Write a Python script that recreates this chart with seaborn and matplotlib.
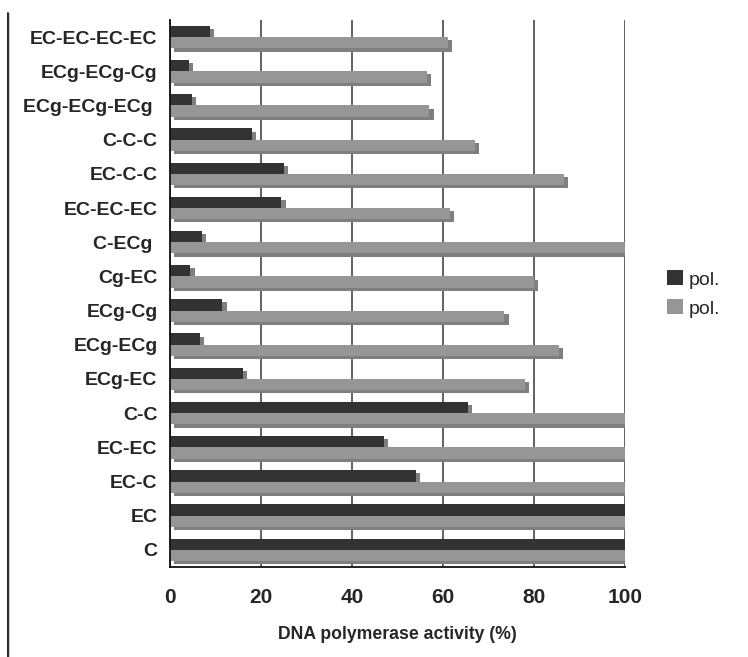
import numpy as np
import pandas as pd
import matplotlib
matplotlib.use('Agg')
import matplotlib.pyplot as plt
import matplotlib.patheffects as pe
from matplotlib.lines import Line2D
import seaborn as sns

# compounds, top to bottom
compounds = [
    'EC-EC-EC-EC', 'ECg-ECg-Cg', 'ECg-ECg-ECg ', 'C-C-C', 'EC-C-C',
    'EC-EC-EC', 'C-ECg ', 'Cg-EC', 'ECg-Cg', 'ECg-ECg', 'ECg-EC',
    'C-C', 'EC-EC', 'EC-C', 'EC', 'C',
]
# activity (%) for the two polymerases
pol_dark = [8.8, 4.2, 4.8, 18, 25, 24.5, 7, 4.5, 11.5, 6.5, 16, 65.5, 47, 54, 100, 100]
pol_gray = [61, 56.5, 57, 67, 86.5, 61.5, 100, 80, 73.5, 85.5, 78, 100, 100, 100, 100, 100]
series = ['pol_a', 'pol_b']
legend_labels = ['pol.', 'pol.']
xticks = [0, 20, 40, 60, 80, 100]

df = pd.DataFrame({
    'compound': compounds * 2,
    'activity': pol_dark + pol_gray,
    'series': [series[0]] * len(compounds) + [series[1]] * len(compounds),
})

sns.set_style('white')
plt.rcParams['font.family'] = ['Liberation Sans', 'DejaVu Sans']

fig = plt.figure(figsize=(7.48, 6.57), dpi=100)
ax = fig.add_axes([0.2273, 0.137, 0.6083, 0.8326])

colors = ['#333333', '#969696']
sns.barplot(data=df, y='compound', x='activity', hue='series', order=compounds,
            hue_order=series, palette=colors, orient='h', width=0.66, gap=0,
            saturation=1, legend=False, ax=ax)

# excel-like 3d shadow on every bar
shadow = [pe.SimplePatchShadow(offset=(3, -2.3), shadow_rgbFace='#7f7f7f', alpha=1), pe.Normal()]
for p in ax.patches:
    p.set_edgecolor('none')
    p.set_path_effects(shadow)

ax.set_xlim(0, 100)
ax.set_ylim(len(compounds) - 0.5, -0.5)
ax.set_xticks(xticks)
ax.set_xticklabels([str(t) for t in xticks], fontsize=15, fontweight='bold')
for lab in ax.get_yticklabels():
    lab.set_fontsize(14)
    lab.set_fontweight('bold')
ax.set_ylabel('')
ax.set_xlabel('DNA polymerase activity (%)', fontsize=12.7, fontweight='bold', labelpad=14)

ax.grid(axis='x', color='#555555', linewidth=1.3)
ax.set_axisbelow(True)
ax.set_yticks(np.arange(-0.5, len(compounds), 1), minor=True)
ax.tick_params(axis='y', which='major', length=0, pad=9)
ax.tick_params(axis='y', which='minor', direction='in', length=4, width=1, color='#222222')
ax.tick_params(axis='x', which='major', length=0, pad=15)

for side in ['top', 'right']:
    ax.spines[side].set_visible(False)
for side in ['left', 'bottom']:
    ax.spines[side].set_color('#111111')
    ax.spines[side].set_linewidth(1.3)

handles = [plt.Rectangle((0, 0), 1, 1, facecolor=c, edgecolor='none') for c in colors]
fig.legend(handles, legend_labels, loc='center left', bbox_to_anchor=(0.8917, 0.5525),
           frameon=False, fontsize=14, handlelength=0.8, handleheight=0.8,
           handletextpad=0.3, labelspacing=0.55, borderpad=0, borderaxespad=0)

# thin border line at the left edge
fig.add_artist(Line2D([0.0107, 0.0107], [0.0, 0.98], color='#222222', linewidth=1.4))
fig.add_artist(Line2D([0.0127, 0.0127], [0.0, 0.98], color='#cccccc', linewidth=0.8))

fig.savefig('out.png', dpi=100)
